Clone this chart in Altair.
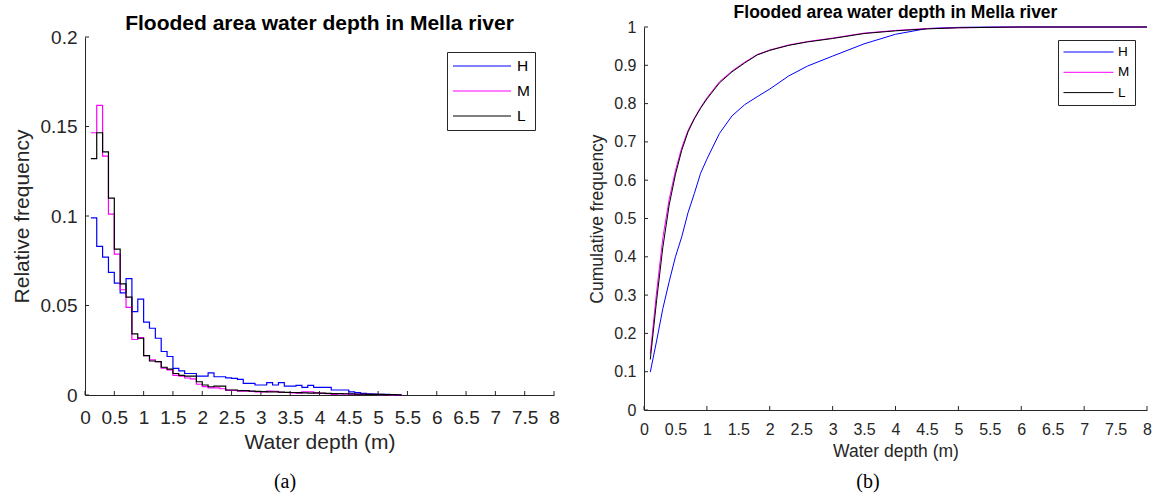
import altair as alt
import pandas as pd

FONT = "Liberation Sans"
CAPTION_FONT = "Liberation Serif"
AXIS_COLOR = "#262626"

SERIES = ["H", "M", "L"]
COLORS = ["#0000ff", "#ff00ff", "#000000"]

# Relative frequency per 0.1 m depth bin; the first bin starts at 0.1 m
N_BINS = 53
BIN_EDGES = [round(0.1 * (i + 1), 1) for i in range(N_BINS + 1)]

hist_H = [0.099, 0.083, 0.077, 0.0685, 0.0625, 0.057, 0.065, 0.0466, 0.0536, 0.0407,
          0.0373, 0.0317, 0.0243, 0.0215, 0.0149, 0.0135, 0.012, 0.012, 0.0106, 0.0106,
          0.0124, 0.0102, 0.0102, 0.0096, 0.0093, 0.0087, 0.0065, 0.0065, 0.0056, 0.0056,
          0.0069, 0.0056, 0.0069, 0.005, 0.005, 0.0054, 0.0043, 0.0054, 0.0043, 0.0043,
          0.0043, 0.0028, 0.0028, 0.0028, 0.0017, 0.0013, 0.0009, 0.0006, 0.0005, 0.0004,
          0.0003, 0.0002, 0.0001]
hist_M = [0.1465, 0.1618, 0.1334, 0.101, 0.0787, 0.0588, 0.049, 0.031, 0.032, 0.022,
          0.0196, 0.0187, 0.015, 0.014, 0.011, 0.0105, 0.0095, 0.009, 0.006, 0.0047,
          0.004, 0.004, 0.0035, 0.0026, 0.0026, 0.0022, 0.0021, 0.002, 0.0018, 0.0017,
          0.0022, 0.0021, 0.0015, 0.0014, 0.0012, 0.0011, 0.0018, 0.0017, 0.001, 0.0009,
          0.0008, 0.0004, 0.0006, 0.0005, 0.0005, 0.0004, 0.0004, 0.0003, 0.0003, 0.0002,
          0.0002, 0.0001, 0.0001]
hist_L = [0.132, 0.1465, 0.1358, 0.110, 0.0815, 0.0621, 0.0547, 0.0341, 0.0317, 0.022,
          0.019, 0.0187, 0.0155, 0.0144, 0.012, 0.011, 0.0106, 0.0106, 0.0074, 0.0056,
          0.0046, 0.005, 0.005, 0.0028, 0.0028, 0.0025, 0.0024, 0.0022, 0.002, 0.0019,
          0.0018, 0.0018, 0.0016, 0.0015, 0.0014, 0.0013, 0.0012, 0.0011, 0.0012, 0.001,
          0.0009, 0.0008, 0.0008, 0.0007, 0.0006, 0.0005, 0.0005, 0.0004, 0.0004, 0.0003,
          0.0002, 0.0002, 0.0001]

# Cumulative frequency against water depth
CDF_X = [0.1, 0.2, 0.3, 0.4, 0.5, 0.6, 0.7, 0.8, 0.9, 1.0, 1.2, 1.4, 1.6, 1.8, 2.0,
         2.3, 2.6, 3.0, 3.5, 4.0, 4.5, 5.0, 5.5, 6.0, 8.0]
cdf_H = [0.099, 0.18, 0.265, 0.335, 0.40, 0.452, 0.515, 0.565, 0.618, 0.655, 0.722,
         0.768, 0.797, 0.818, 0.838, 0.872, 0.898, 0.924, 0.956, 0.981, 0.996, 0.999,
         1.0, 1.0, 1.0]
cdf_M = [0.147, 0.308, 0.45, 0.55, 0.625, 0.685, 0.73, 0.762, 0.79, 0.815, 0.857,
         0.885, 0.908, 0.928, 0.94, 0.953, 0.962, 0.971, 0.984, 0.991, 0.996, 0.998,
         0.999, 1.0, 1.0]
cdf_L = [0.132, 0.285, 0.425, 0.535, 0.615, 0.678, 0.726, 0.76, 0.788, 0.812, 0.854,
         0.883, 0.906, 0.927, 0.939, 0.952, 0.961, 0.970, 0.983, 0.990, 0.995, 0.998,
         0.999, 1.0, 1.0]

X_LABELS = [i * 0.5 for i in range(17)]
X_TICKS_CDF = list(range(9))
Y_LABELS_HIST = [0, 0.05, 0.1, 0.15, 0.2]
Y_LABELS_CDF = [round(i * 0.1, 1) for i in range(11)]

TITLE = "Flooded area water depth in Mella river"

# ---- tables -------------------------------------------------------------
hist_rows = []
for name, vals in zip(SERIES, [hist_H, hist_M, hist_L]):
    for i, v in enumerate(vals):
        hist_rows.append({"series": name, "depth": BIN_EDGES[i], "value": v})
    hist_rows.append({"series": name, "depth": BIN_EDGES[N_BINS], "value": vals[-1]})
hist_df = pd.DataFrame(hist_rows)

cdf_rows = []
for name, vals in zip(SERIES, [cdf_H, cdf_M, cdf_L]):
    for x, v in zip(CDF_X, vals):
        cdf_rows.append({"series": name, "depth": x, "value": v})
cdf_df = pd.DataFrame(cdf_rows)


def x_axis(label_size, title_size, label_pad, title_pad):
    return alt.Axis(values=X_LABELS, format="~g", ticks=False, tickSize=0, grid=False,
                    labelOverlap=False, labelFlush=False, labelFont=FONT,
                    labelFontSize=label_size, labelColor=AXIS_COLOR, labelPadding=label_pad,
                    titleFont=FONT, titleFontSize=title_size, titleFontWeight="normal",
                    titleColor=AXIS_COLOR, titlePadding=title_pad,
                    domainColor=AXIS_COLOR, domainWidth=1)


def y_axis(values, label_size, title_size, label_pad, title_pad):
    return alt.Axis(values=values, format="~g", ticks=False, tickSize=0, grid=False,
                    labelOverlap=False, labelFlush=False, labelFont=FONT,
                    labelFontSize=label_size, labelColor=AXIS_COLOR, labelPadding=label_pad,
                    titleFont=FONT, titleFontSize=title_size, titleFontWeight="normal",
                    titleColor=AXIS_COLOR, titlePadding=title_pad,
                    domainColor=AXIS_COLOR, domainWidth=1)


def legend(x, y, line_len, font_size, row_h, row_gap, label_off, stroke_w):
    return alt.Legend(title=None, orient="none", legendX=x, legendY=y,
                      symbolType="stroke", symbolSize=line_len * line_len,
                      symbolStrokeWidth=stroke_w, clipHeight=row_h, rowPadding=row_gap,
                      padding=5, labelFont=FONT, labelFontSize=font_size, labelColor="black",
                      labelOffset=label_off, strokeColor=AXIS_COLOR, fillColor="white",
                      symbolOffset=0)


# ---- (a) histogram of water depth ----------------------------------------
W1, H1, TOP1 = 469, 368, 10
xa = alt.Scale(domain=[0, 8], nice=False, zero=False)
ya = alt.Scale(domain=[0, 0.2], nice=False, zero=False, range=[H1, TOP1])
xa_axis = x_axis(19, 21, 13, 4)
ya_axis = y_axis(Y_LABELS_HIST, 19, 21, 8, 8)
color_a = alt.Color("series:N", scale=alt.Scale(domain=SERIES, range=COLORS),
                    legend=legend(362, 25, 58, 15.5, 18, 7, 5, 1.2))

hist_layers = []
for name in SERIES:
    hist_layers.append(
        alt.Chart(hist_df).transform_filter(alt.datum.series == name)
        .mark_line(interpolate="step-after", strokeWidth=1.2)
        .encode(x=alt.X("depth:Q", scale=xa, axis=xa_axis, title="Water depth (m)"),
                y=alt.Y("value:Q", scale=ya, axis=ya_axis, title="Relative frequency"),
                color=color_a)
    )

xticks_a = alt.Chart(pd.DataFrame({"depth": X_LABELS})).mark_rule(
    color=AXIS_COLOR, strokeWidth=1).encode(
    x=alt.X("depth:Q", scale=xa, axis=xa_axis, title="Water depth (m)"),
    y=alt.value(H1), y2=alt.value(H1 - 4))
yticks_a = alt.Chart(pd.DataFrame({"value": Y_LABELS_HIST})).mark_rule(
    color=AXIS_COLOR, strokeWidth=1).encode(
    y=alt.Y("value:Q", scale=ya, axis=ya_axis, title="Relative frequency"),
    x=alt.value(0), x2=alt.value(4))
caption_a = alt.Chart(pd.DataFrame({"c": ["(a)"]})).mark_text(
    font=CAPTION_FONT, fontSize=20, color="black", baseline="middle").encode(
    text="c:N", x=alt.value(200), y=alt.value(455))

panel_a = alt.layer(xticks_a, yticks_a, *hist_layers, caption_a).properties(
    width=W1, height=H1,
    title=alt.TitleParams(TITLE, font=FONT, fontSize=21, fontWeight="bold",
                          color="black", anchor="middle", frame="group", offset=-7))

# ---- (b) cumulative frequency ---------------------------------------------
W2, H2 = 503, 383
xb = alt.Scale(domain=[0, 8], nice=False, zero=False)
yb = alt.Scale(domain=[0, 1], nice=False, zero=False)
xb_axis = x_axis(16, 17.5, 11, 5)
yb_axis = y_axis(Y_LABELS_CDF, 16, 17.5, 8, 7)
color_b = alt.Color("series:N", scale=alt.Scale(domain=SERIES, range=COLORS),
                    legend=legend(414, 13, 50, 13.5, 14, 6.3, 4, 1))

cdf_layers = []
for name in SERIES:
    cdf_layers.append(
        alt.Chart(cdf_df).transform_filter(alt.datum.series == name)
        .mark_line(strokeWidth=1)
        .encode(x=alt.X("depth:Q", scale=xb, axis=xb_axis, title="Water depth (m)"),
                y=alt.Y("value:Q", scale=yb, axis=yb_axis, title="Cumulative frequency"),
                color=color_b)
    )

xticks_b = alt.Chart(pd.DataFrame({"depth": X_TICKS_CDF})).mark_rule(
    color=AXIS_COLOR, strokeWidth=1).encode(
    x=alt.X("depth:Q", scale=xb, axis=xb_axis, title="Water depth (m)"),
    y=alt.value(H2), y2=alt.value(H2 - 4))
yticks_b = alt.Chart(pd.DataFrame({"value": Y_LABELS_CDF})).mark_rule(
    color=AXIS_COLOR, strokeWidth=1).encode(
    y=alt.Y("value:Q", scale=yb, axis=yb_axis, title="Cumulative frequency"),
    x=alt.value(0), x2=alt.value(4))
caption_b = alt.Chart(pd.DataFrame({"c": ["(b)"]})).mark_text(
    font=CAPTION_FONT, fontSize=20, color="black", baseline="middle").encode(
    text="c:N", x=alt.value(224), y=alt.value(455))

panel_b = alt.layer(xticks_b, yticks_b, *cdf_layers, caption_b).properties(
    width=W2, height=H2,
    title=alt.TitleParams(TITLE, font=FONT, fontSize=17.5, fontWeight="bold",
                          color="black", anchor="middle", frame="group", offset=-2))

chart = alt.hconcat(panel_a, panel_b, spacing=28).resolve_scale(
    color="independent").resolve_legend(color="independent").properties(
    padding={"left": 11, "top": 3, "right": 2, "bottom": 2},
    background="white").configure_view(stroke=None)

chart.save("out.html", embed_options={"renderer": "svg", "actions": False})
